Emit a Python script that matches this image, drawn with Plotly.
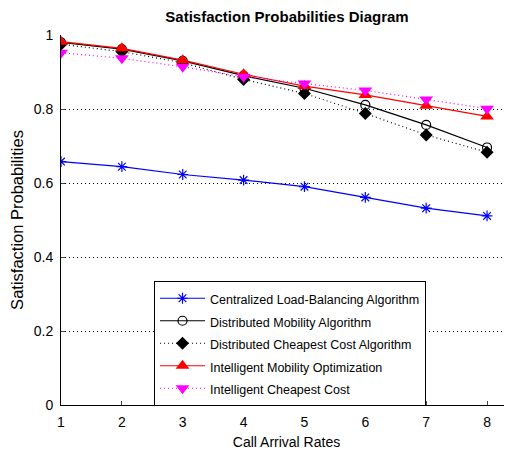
import plotly.graph_objects as go

x = [1, 2, 3, 4, 5, 6, 7, 8]
centralized = [0.658, 0.644, 0.623, 0.608, 0.590, 0.561, 0.532, 0.511]
dist_mobility = [0.980, 0.962, 0.930, 0.890, 0.856, 0.811, 0.757, 0.696]
dist_cheapest = [0.975, 0.955, 0.925, 0.880, 0.842, 0.788, 0.730, 0.683]
intel_mobility = [0.982, 0.964, 0.932, 0.894, 0.862, 0.838, 0.809, 0.780]
intel_cheapest = [0.952, 0.937, 0.914, 0.887, 0.869, 0.850, 0.826, 0.801]

names = ["Centralized Load-Balancing Algorithm", "Distributed Mobility Algorithm",
         "Distributed Cheapest Cost Algorithm", "Intelligent Mobility Optimization",
         "Intelligent Cheapest Cost"]

FONT = "Liberation Sans, Arial, sans-serif"


def lg(name):
    return '<span style="font-size:12.5px">' + name + '</span>'


fig = go.Figure()
fig.add_trace(go.Scatter(x=x, y=centralized, name=lg(names[0]), mode="lines+markers",
                         line=dict(color="#0000ff", width=1.2),
                         marker=dict(symbol="asterisk-open", size=9, color="#0000ff",
                                     line=dict(color="#0000ff", width=1.2))))
fig.add_trace(go.Scatter(x=x, y=dist_mobility, name=lg(names[1]), mode="lines+markers",
                         line=dict(color="black", width=1.2),
                         marker=dict(symbol="circle-open", size=9, color="black",
                                     line=dict(color="black", width=1.2))))
fig.add_trace(go.Scatter(x=x, y=dist_cheapest, name=lg(names[2]), mode="lines+markers",
                         line=dict(color="black", width=1.2, dash="1px,3px"),
                         marker=dict(symbol="diamond", size=10, color="black")))
fig.add_trace(go.Scatter(x=x, y=intel_mobility, name=lg(names[3]), mode="lines+markers",
                         line=dict(color="#ff0000", width=1.2),
                         marker=dict(symbol="triangle-up", size=12, color="#ff0000")))
fig.add_trace(go.Scatter(x=x, y=intel_cheapest, name=lg(names[4]), mode="lines+markers",
                         line=dict(color="#ff00ff", width=1.2, dash="1px,3px"),
                         marker=dict(symbol="triangle-down", size=12, color="#ff00ff")))

# page has an 8px body margin, so the figure is sized/offset to compensate
fig.update_layout(
    width=504, height=445,
    margin=dict(l=53, r=0, t=27, b=48),
    paper_bgcolor="white", plot_bgcolor="white",
    font=dict(family=FONT, size=14, color="black"),
    title=dict(text="<b>Satisfaction Probabilities Diagram</b>", x=279 / 504, xanchor="center",
               y=1 - 9 / 445, yanchor="middle", font=dict(family=FONT, size=15)),
    showlegend=True,
    legend=dict(x=(154 - 61) / 451, y=(405 - 281) / 370, xanchor="left", yanchor="top",
                bordercolor="black", borderwidth=1, bgcolor="white",
                font=dict(family=FONT, size=15), tracegroupgap=0, itemwidth=45),
)
fig.update_xaxes(range=[1, 8.41], tickvals=x, ticks="inside", ticklen=4,
                 showline=True, linecolor="black", linewidth=1, showgrid=False,
                 zeroline=False, automargin=False, ticklabelstandoff=4,
                 title=dict(text="Call Arrival Rates", standoff=8, font=dict(family=FONT, size=14)),
                 tickfont=dict(family=FONT, size=14))
fig.update_yaxes(range=[0, 1], tickvals=[0, 0.2, 0.4, 0.6, 0.8, 1],
                 ticktext=["0", "0.2", "0.4", "0.6", "0.8", "1"],
                 ticks="inside", ticklen=4, showline=True, linecolor="black", linewidth=1,
                 showgrid=True, gridcolor="black", griddash="1px,3px", gridwidth=1,
                 zeroline=False, automargin=False, ticklabelstandoff=4,
                 title=dict(text="Satisfaction Probabilities", standoff=6,
                            font=dict(family=FONT, size=16.5)),
                 tickfont=dict(family=FONT, size=14))

fig.write_html("out.html")
